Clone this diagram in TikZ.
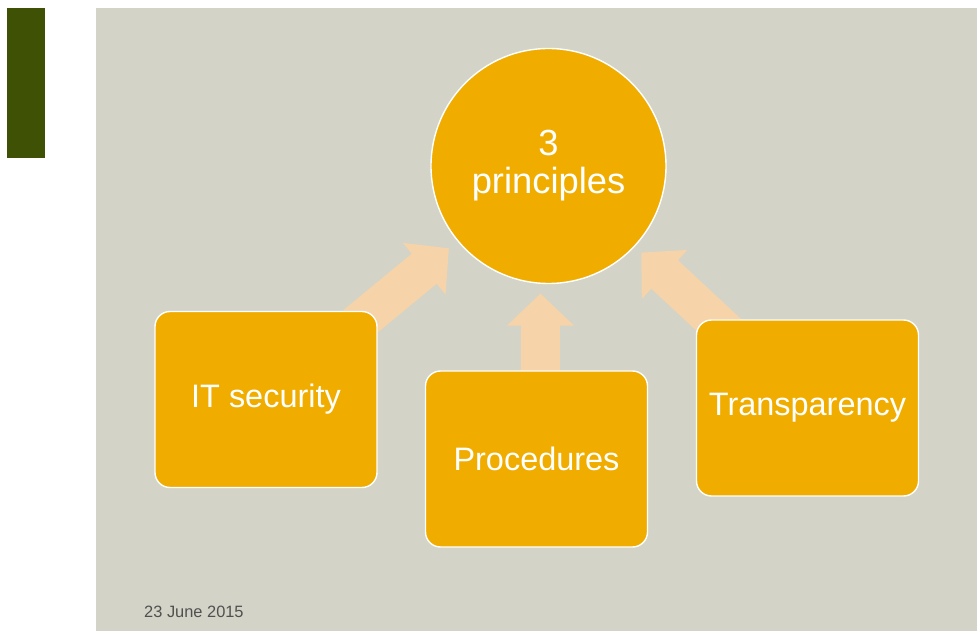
\documentclass[tikz,border=0pt]{standalone}
\usepackage{fontspec}
\setmainfont{Liberation Sans}
\usetikzlibrary{positioning, backgrounds, arrows.meta}
\definecolor{slidegreen}{HTML}{3F5105}
\definecolor{panelgrey}{HTML}{D3D3C7}
\definecolor{myamber}{HTML}{F0AD00}
\definecolor{mypeach}{HTML}{F6D3A8}
\definecolor{dategrey}{HTML}{505050}
\tikzset{
	principlenode/.style={
			circle,
			draw=white,
			line width=1.2pt,
			fill=myamber,
			text=white,
			minimum size=70.5mm,
			inner sep=0pt,
			align=center,
			font=\fontsize{31}{32.5}\selectfont
		},
	boxnode/.style={
			rectangle,
			rounded corners=4.5mm,
			draw=white,
			line width=1.2pt,
			fill=myamber,
			text=white,
			minimum width=66.6mm,
			minimum height=52.8mm,
			inner sep=0pt,
			font=\fontsize{27.7}{30}\selectfont
		},
	fatarrow/.style={
			draw=mypeach,
			line width=11.7mm,
			-{Triangle[width=19.5mm, length=9.6mm]},
			shorten <=-12mm,
			shorten >=3.3mm
		}
}

\begin{document}
\begin{tikzpicture}[x=0.3mm, y=-0.3mm]
\useasboundingbox (0,0) rectangle (977,631);
\fill[slidegreen] (7,8) rectangle (45,158);

\node[principlenode] (princ) at (548.5,166)  { 3\\principles };
\node[boxnode] (itsec) at (266,399.5)  { IT security };
\node[boxnode] (proc) at (536.5,459)  { Procedures };
\node[boxnode] (transp) at (807.5,408)  { Transparency };

\node[anchor=base west, inner sep=0pt, text=dategrey, font=\fontsize{14}{14}\selectfont]
(date) at (144,617) { 23 June 2015 };

\begin{scope}[on background layer]
\fill[panelgrey] (96,8) rectangle (977,631);
\draw[fatarrow] (itsec) -- (princ);
\draw[fatarrow, shorten >=2.8mm]
([xshift=1.2mm]proc.north) -- ([xshift=1.2mm]proc.north |- princ.south);
\draw[fatarrow, shorten >=2.6mm] (transp) -- (princ);
\end{scope}
\end{tikzpicture}
\end{document}
